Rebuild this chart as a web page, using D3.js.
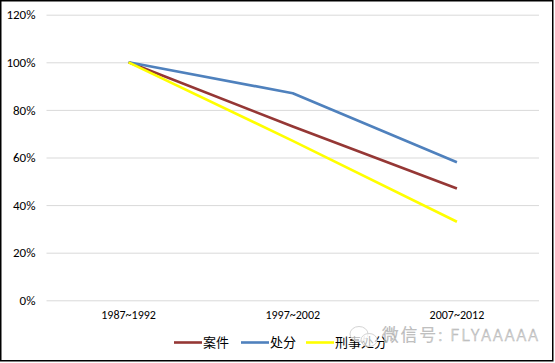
<!DOCTYPE html>
<html>
<head>
<meta charset="utf-8">
<script src="https://cdn.jsdelivr.net/npm/d3@7"></script>
<style>
  body { margin: 0; background: #fff; }
  svg { display: block; }
</style>
</head>
<body>
<svg></svg>
<script>
// data
const periods = ['1987~1992', '1997~2002', '2007~2012'];
const seriesNames = ['案件', '处分', '刑事处分'];
const caseValues = [100, 73, 47];
const punishValues = [100, 87, 58];
const criminalValues = [100, 67, 33];
const yTicks = [0, 20, 40, 60, 80, 100, 120];
const colors = ['#953735', '#4f81bd', '#ffff00'];

const series = [
  { name: seriesNames[0], values: caseValues, color: colors[0] },
  { name: seriesNames[1], values: punishValues, color: colors[1] },
  { name: seriesNames[2], values: criminalValues, color: colors[2] }
];

const svgWidth = 555, svgHeight = 363;
const margin = { top: 14.7, right: 16, bottom: 62.7, left: 46.5 };
const width = svgWidth - margin.left - margin.right;
const height = svgHeight - margin.top - margin.bottom;
const labelFont = 'Carlito, "Liberation Sans", Arial, sans-serif';

const svg = d3.select('svg')
  .attr('width', svgWidth)
  .attr('height', svgHeight);

// outer frame
svg.append('rect')
  .attr('x', 0.75).attr('y', 0.75)
  .attr('width', svgWidth - 3).attr('height', svgHeight - 3)
  .attr('fill', '#fff')
  .attr('stroke', '#000')
  .attr('stroke-width', 1.5);

const g = svg.append('g')
  .attr('transform', 'translate(' + margin.left + ',' + margin.top + ')');

const x = d3.scaleBand().domain(periods).range([0, width]);
const y = d3.scaleLinear().domain([0, 120]).range([height, 0]);

// gridlines + y labels
const yAxis = g.append('g')
  .call(d3.axisLeft(y).tickValues(yTicks).tickFormat(d => d + '%').tickSize(-width).tickPadding(11));
yAxis.select('.domain').remove();
yAxis.selectAll('.tick line').attr('stroke', '#d9d9d9').attr('stroke-width', 1);
yAxis.selectAll('.tick text')
  .attr('fill', '#000')
  .style('font-family', labelFont)
  .style('font-size', '13px');

// x labels
const xAxis = g.append('g')
  .attr('transform', 'translate(0,' + height + ')')
  .call(d3.axisBottom(x).tickSize(0).tickPadding(10));
xAxis.select('.domain').remove();
xAxis.selectAll('.tick text')
  .attr('fill', '#000')
  .style('font-family', labelFont)
  .style('font-size', '12px');

const line = d3.line()
  .x((d, i) => x(periods[i]) + x.bandwidth() / 2)
  .y(d => y(d));

g.selectAll('path.series')
  .data(series)
  .enter().append('path')
  .attr('class', 'series')
  .attr('fill', 'none')
  .attr('stroke', d => d.color)
  .attr('stroke-width', 2.6)
  .attr('stroke-linejoin', 'round')
  .attr('d', d => line(d.values));

// legend
const legendX = [174, 241, 306];
const legend = svg.append('g').attr('transform', 'translate(0,342.5)');
const item = legend.selectAll('g')
  .data(series)
  .enter().append('g')
  .attr('transform', (d, i) => 'translate(' + legendX[i] + ',0)');
item.append('line')
  .attr('x1', 0).attr('x2', 28)
  .attr('stroke', d => d.color)
  .attr('stroke-width', 2.6);
item.append('text')
  .attr('x', 29).attr('y', 4.5)
  .style('font-family', '"Noto Sans CJK SC", sans-serif')
  .style('font-size', '13px')
  .attr('fill', '#000')
  .text(d => d.name);

// watermark (logo bubbles + account name)
const wm = svg.append('g');
wm.append('ellipse')
  .attr('cx', 359).attr('cy', 334).attr('rx', 9).attr('ry', 7.5)
  .attr('fill', '#fff').attr('fill-opacity', 0.7)
  .attr('stroke', '#d4d4d4').attr('stroke-width', 1);
wm.append('ellipse')
  .attr('cx', 369).attr('cy', 340).attr('rx', 8).attr('ry', 6.5)
  .attr('fill', '#fff').attr('fill-opacity', 0.7)
  .attr('stroke', '#d4d4d4').attr('stroke-width', 1);
wm.append('text')
  .attr('x', 382).attr('y', 341)
  .attr('textLength', 156)
  .attr('lengthAdjust', 'spacing')
  .style('font-family', '"Noto Sans CJK SC", sans-serif')
  .style('font-size', '16.5px')
  .style('font-weight', 300)
  .attr('fill', '#fff')
  .attr('fill-opacity', 0.75)
  .attr('stroke', '#b4b4b4')
  .attr('stroke-width', 0.6)
  .text('微信号: FLYAAAAA');
</script>
</body>
</html>
